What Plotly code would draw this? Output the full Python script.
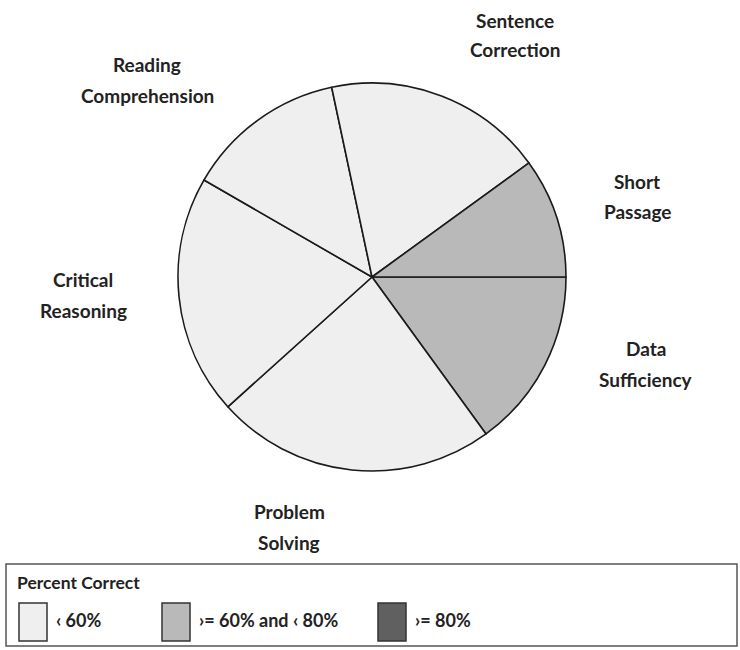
import plotly.graph_objects as go

W, H = 740, 650

# ---- data (clockwise from 3 o'clock) ----
sections = ["Data Sufficiency", "Problem Solving", "Critical Reasoning",
            "Reading Comprehension", "Sentence Correction", "Short Passage"]
questions = [9, 14, 12, 8, 11, 6]
performance = [">= 60% and < 80%", "< 60%", "< 60%", "< 60%", "< 60%", ">= 60% and < 80%"]

legend_title = "Percent Correct"
legend_items = ["< 60%", ">= 60% and < 80%", ">= 80%"]
legend_display = ["\u2039 60%", "\u203a= 60% and \u2039 80%", "\u203a= 80%"]
palette = {"< 60%": "#efefef", ">= 60% and < 80%": "#b9b9b9", ">= 80%": "#606060"}

FONT = "Lato"
TXT = "#222222"

def px(x):
    return x / W

def py(y):
    return 1 - y / H

cx, cy, r = 372, 277, 194

fig = go.Figure(go.Pie(
    labels=sections,
    values=questions,
    sort=False,
    direction="clockwise",
    rotation=90,
    textinfo="none",
    hoverinfo="label+value",
    marker=dict(colors=[palette[p] for p in performance],
                line=dict(color="#1a1a1a", width=1.6)),
    domain=dict(x=[px(cx - r), px(cx + r)], y=[py(cy + r), py(cy - r)]),
    showlegend=False,
))

annotations = []

label_pos = {
    "Sentence Correction": (515, 20, 50),
    "Short Passage": (637, 181, 212),
    "Data Sufficiency": (646, 348, 379),
    "Problem Solving": (289, 511, 542),
    "Critical Reasoning": (83, 279, 310),
    "Reading Comprehension": (147, 64, 95),
}
for name in sections:
    x, y1, y2 = label_pos[name]
    w1, w2 = name.split(" ", 1)
    for word, yy in ((w1, y1), (w2, y2)):
        annotations.append(dict(
            x=px(x), y=py(yy), xref="paper", yref="paper",
            text=word, showarrow=False, xanchor="center", yanchor="middle",
            font=dict(family=FONT, size=19, color=TXT, weight="bold"),
        ))

shapes = []
shapes.append(dict(type="rect", xref="paper", yref="paper",
                   x0=px(6), x1=px(737), y0=py(646), y1=py(564),
                   line=dict(color="#555555", width=1.5), fillcolor="white"))
annotations.append(dict(
    x=px(15), y=py(582), xref="paper", yref="paper", text=legend_title,
    showarrow=False, xanchor="left", yanchor="middle",
    font=dict(family=FONT, size=17.5, color=TXT, weight="bold")))

sw_x = [19, 162, 378]
for item, disp, sx in zip(legend_items, legend_display, sw_x):
    shapes.append(dict(type="rect", xref="paper", yref="paper",
                       x0=px(sx), x1=px(sx + 28), y0=py(641), y1=py(603),
                       line=dict(color="#333333", width=1.5),
                       fillcolor=palette[item]))
    annotations.append(dict(
        x=px(sx + 35), y=py(620), xref="paper", yref="paper", text=disp,
        showarrow=False, xanchor="left", yanchor="middle",
        font=dict(family=FONT, size=18, color=TXT, weight="bold")))

fig.update_layout(
    width=W, height=H,
    margin=dict(l=0, r=0, t=0, b=0),
    paper_bgcolor="white", plot_bgcolor="white",
    annotations=annotations, shapes=shapes,
)

fig.write_html("out.html",
               config={"displayModeBar": False},
               post_script="document.body.style.margin='0px';document.body.style.overflow='hidden';")
